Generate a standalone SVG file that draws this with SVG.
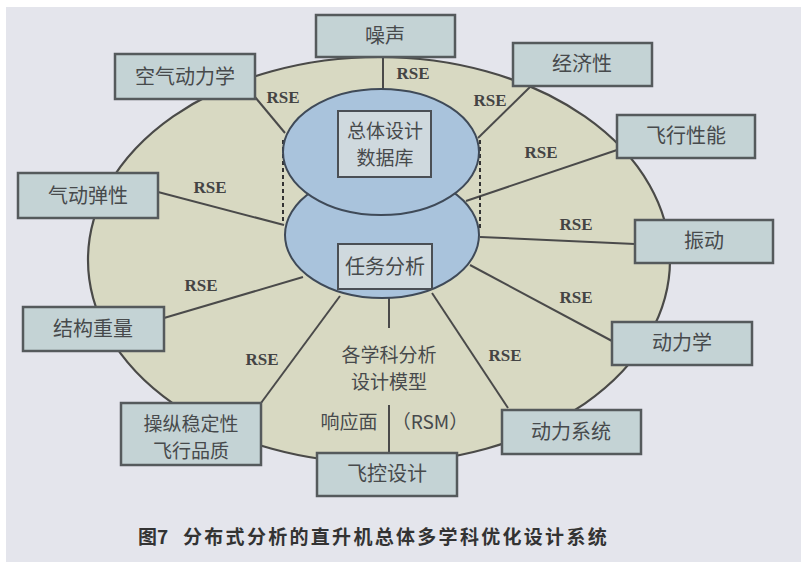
<svg xmlns="http://www.w3.org/2000/svg" width="801" height="562" viewBox="0 0 801 562">
<style>
.bg{fill:#e4e5ec}
.outer{fill:#d8d9c2;stroke:#4a4a48;stroke-width:2.2}
.blob{fill:#a9c3dc;stroke:#3f4a58;stroke-width:2}
.box{fill:#c4d3d5;stroke:#555a5c;stroke-width:2.5}
.ibox{fill:#cfd9de;stroke:#4a4f55;stroke-width:2}
.cn{fill:#474a4c;font-family:"Noto Sans CJK SC","Noto Sans CJK JP",sans-serif;font-size:20px;text-anchor:middle}
.cn2{fill:#474a4c;font-family:"Noto Sans CJK SC","Noto Sans CJK JP",sans-serif;font-size:19px;text-anchor:middle}
.rse{fill:#444;font-family:"Liberation Serif",serif;font-size:17px;font-weight:bold;text-anchor:middle}
.ln{stroke:#4a4a4a;stroke-width:2;fill:none}
.dash{stroke:#333;stroke-width:2;stroke-dasharray:4 3;fill:none}
.cap{fill:#333;font-family:"Noto Sans CJK SC",sans-serif;font-size:19px;font-weight:bold}
</style>
<rect width="801" height="562" fill="#ffffff"/>
<rect class="bg" x="6" y="7" width="795" height="555"/>
<ellipse class="outer" cx="379" cy="260" rx="291" ry="203"/>
<g id="connectors">
<line class="ln" x1="383" y1="57" x2="383" y2="89"/>
<line class="ln" x1="255" y1="97" x2="285" y2="133"/>
<line class="ln" x1="158" y1="192" x2="284" y2="225"/>
<line class="ln" x1="164" y1="318" x2="303" y2="277"/>
<line class="ln" x1="261" y1="403" x2="340" y2="296"/>
<line class="ln" x1="389" y1="297" x2="389" y2="328"/>
<line class="ln" x1="389" y1="405" x2="389" y2="453"/>
<line class="ln" x1="508" y1="408" x2="432" y2="293"/>
<line class="ln" x1="612" y1="341" x2="470" y2="265"/>
<line class="ln" x1="480" y1="237" x2="635" y2="244"/>
<line class="ln" x1="466" y1="201" x2="617" y2="150"/>
<line class="ln" x1="478" y1="138" x2="530" y2="87"/>
<line class="dash" x1="283" y1="140" x2="283" y2="223"/>
<line class="dash" x1="480" y1="140" x2="480" y2="228"/>
</g>
<g id="task">
<ellipse class="blob" cx="382" cy="235" rx="97" ry="63"/>
<rect class="ibox" x="338" y="244" width="94" height="45"/>
<text class="cn" x="385" y="274">任务分析</text>
</g>
<g id="database">
<ellipse class="blob" cx="381" cy="152" rx="98" ry="63"/>
<rect class="ibox" x="338" y="111" width="93" height="66"/>
<text class="cn2" x="385" y="138">总体设计</text>
<text class="cn2" x="385" y="165">数据库</text>
</g>
<g id="labels">
<text class="rse" x="413" y="79">RSE</text>
<text class="rse" x="283" y="103">RSE</text>
<text class="rse" x="210" y="193">RSE</text>
<text class="rse" x="201" y="291">RSE</text>
<text class="rse" x="262" y="365">RSE</text>
<text class="rse" x="505" y="361">RSE</text>
<text class="rse" x="576" y="303">RSE</text>
<text class="rse" x="576" y="230">RSE</text>
<text class="rse" x="541" y="158">RSE</text>
<text class="rse" x="490" y="106">RSE</text>
<text class="cn2" x="389" y="362">各学科分析</text>
<text class="cn2" x="389" y="389">设计模型</text>
<text class="cn2" x="349" y="429">响应面</text>
<text class="cn2" x="430" y="429">（RSM）</text>
</g>
<g id="noise"><rect class="box" x="316" y="15" width="139" height="42"/><text class="cn" x="385" y="43">噪声</text></g>
<g id="aero"><rect class="box" x="115" y="54" width="140" height="45"/><text class="cn" x="185" y="84">空气动力学</text></g>
<g id="aeroelastic"><rect class="box" x="18" y="173" width="140" height="45"/><text class="cn" x="88" y="203">气动弹性</text></g>
<g id="structure"><rect class="box" x="23" y="307" width="141" height="44"/><text class="cn" x="93" y="336">结构重量</text></g>
<g id="handling"><rect class="box" x="121" y="403" width="140" height="62"/><text class="cn2" x="191" y="431">操纵稳定性</text><text class="cn2" x="191" y="458">飞行品质</text></g>
<g id="fcs"><rect class="box" x="317" y="453" width="140" height="43"/><text class="cn" x="387" y="481">飞控设计</text></g>
<g id="powertrain"><rect class="box" x="502" y="410" width="139" height="44"/><text class="cn" x="571" y="439">动力系统</text></g>
<g id="dynamics"><rect class="box" x="612" y="322" width="140" height="43"/><text class="cn" x="682" y="350">动力学</text></g>
<g id="vibration"><rect class="box" x="635" y="220" width="138" height="43"/><text class="cn" x="704" y="248">振动</text></g>
<g id="performance"><rect class="box" x="617" y="115" width="138" height="43"/><text class="cn" x="686" y="143">飞行性能</text></g>
<g id="economy"><rect class="box" x="513" y="43" width="139" height="43"/><text class="cn" x="582" y="71">经济性</text></g>
<text class="cap" x="138" y="544">图7</text>
<text class="cap" x="183" y="544" letter-spacing="2.3">分布式分析的直升机总体多学科优化设计系统</text>
</svg>
